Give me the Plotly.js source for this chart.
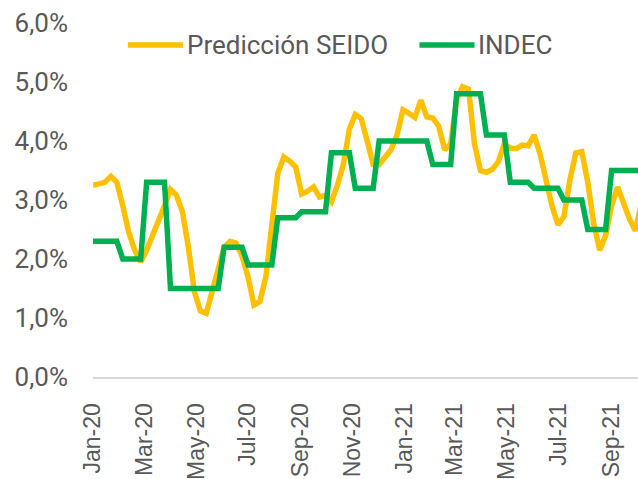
<!DOCTYPE html>
<html>
<head>
<meta charset="utf-8">
<script src="https://cdn.plot.ly/plotly-3.0.1.min.js"></script>
<style>
  html, body { margin: 0; padding: 0; background: #ffffff; }
  #chart { width: 638px; height: 479px; }
</style>
</head>
<body>
<div id="chart"></div>
<script>
// Weekly observation dates
const weeks = [
  "2020-01-01","2020-01-08","2020-01-15","2020-01-22","2020-01-29",
  "2020-02-05","2020-02-12","2020-02-19","2020-02-26",
  "2020-03-04","2020-03-11","2020-03-18","2020-03-25",
  "2020-04-01","2020-04-08","2020-04-15","2020-04-22","2020-04-29",
  "2020-05-06","2020-05-13","2020-05-20","2020-05-27",
  "2020-06-03","2020-06-10","2020-06-17","2020-06-24",
  "2020-07-01","2020-07-08","2020-07-15","2020-07-22","2020-07-29",
  "2020-08-05","2020-08-12","2020-08-19","2020-08-26",
  "2020-09-02","2020-09-09","2020-09-16","2020-09-23","2020-09-30",
  "2020-10-07","2020-10-14","2020-10-21","2020-10-28",
  "2020-11-04","2020-11-11","2020-11-18","2020-11-25",
  "2020-12-02","2020-12-09","2020-12-16","2020-12-23","2020-12-30",
  "2021-01-06","2021-01-13","2021-01-20","2021-01-27",
  "2021-02-03","2021-02-10","2021-02-17","2021-02-24",
  "2021-03-03","2021-03-10","2021-03-17","2021-03-24","2021-03-31",
  "2021-04-07","2021-04-14","2021-04-21","2021-04-28",
  "2021-05-05","2021-05-12","2021-05-19","2021-05-26",
  "2021-06-02","2021-06-09","2021-06-16","2021-06-23","2021-06-30",
  "2021-07-07","2021-07-14","2021-07-21","2021-07-28",
  "2021-08-04","2021-08-11","2021-08-18","2021-08-25",
  "2021-09-01","2021-09-08","2021-09-15","2021-09-22","2021-09-29",
  "2021-10-06"
];

// Predicción SEIDO (weekly, % monthly inflation)
const seido = [
  3.25,3.28,3.30,3.40,3.30,
  2.90,2.45,2.15,1.95,
  2.15,2.40,2.60,2.90,
  3.18,3.08,2.80,2.20,1.45,
  1.12,1.08,1.45,1.90,
  2.20,2.30,2.27,2.05,
  1.70,1.22,1.28,1.70,2.50,
  3.45,3.73,3.66,3.56,
  3.10,3.15,3.22,3.05,3.08,
  2.97,3.25,3.60,4.20,
  4.45,4.38,4.00,3.60,
  3.60,3.72,3.85,4.10,4.53,
  4.47,4.40,4.69,4.41,
  4.39,4.25,3.85,3.95,
  4.70,4.92,4.88,3.95,3.50,
  3.47,3.52,3.65,3.95,
  3.88,3.87,3.93,3.92,
  4.10,3.78,3.34,2.90,2.58,
  2.72,3.34,3.80,3.82,
  3.30,2.60,2.15,2.40,
  2.90,3.22,2.95,2.68,2.48,
  2.95
];

// INDEC (official monthly value, shown on each week)
const indec = [
  2.3,2.3,2.3,2.3,2.3,
  2.0,2.0,2.0,2.0,
  3.3,3.3,3.3,3.3,
  1.5,1.5,1.5,1.5,1.5,
  1.5,1.5,1.5,1.5,
  2.2,2.2,2.2,2.2,
  1.9,1.9,1.9,1.9,1.9,
  2.7,2.7,2.7,2.7,
  2.8,2.8,2.8,2.8,2.8,
  3.8,3.8,3.8,3.8,
  3.2,3.2,3.2,3.2,
  4.0,4.0,4.0,4.0,4.0,
  4.0,4.0,4.0,4.0,
  3.6,3.6,3.6,3.6,
  4.8,4.8,4.8,4.8,4.8,
  4.1,4.1,4.1,4.1,
  3.3,3.3,3.3,3.3,
  3.2,3.2,3.2,3.2,3.2,
  3.0,3.0,3.0,3.0,
  2.5,2.5,2.5,2.5,
  3.5,3.5,3.5,3.5,3.5,
  3.5
];

const seriesNames = ["Predicción SEIDO", "INDEC"];
const seriesColors = ["#FFC000", "#00B050"];

const labelFont = 'Roboto, "Liberation Sans", sans-serif';
const textGrey = "#595959";

const traces = [
  {
    x: weeks, y: seido, type: "scatter", mode: "lines",
    name: seriesNames[0], showlegend: false,
    line: { color: seriesColors[0], width: 5.5, shape: "linear" },
    hoverinfo: "skip"
  },
  {
    x: weeks, y: indec, type: "scatter", mode: "lines",
    name: seriesNames[1], showlegend: false,
    line: { color: seriesColors[1], width: 5.5, shape: "linear" },
    hoverinfo: "skip"
  }
];

// Legend drawn as line samples + text (paper coordinates)
const legendY = 0.938;
const legendItems = [
  { x0: 0.064, x1: 0.165, tx: 0.168 },
  { x0: 0.599, x1: 0.700, tx: 0.703 }
];
const shapes = legendItems.map((it, k) => ({
  type: "line", xref: "paper", yref: "paper",
  x0: it.x0, x1: it.x1, y0: legendY, y1: legendY,
  line: { color: seriesColors[k], width: 5.5 }
}));
const annotations = legendItems.map((it, k) => ({
  xref: "paper", yref: "paper", x: it.tx, y: legendY,
  xanchor: "left", yanchor: "middle", showarrow: false,
  text: seriesNames[k],
  font: { family: labelFont, size: 26, color: textGrey }
}));

const layout = {
  width: 638, height: 479, autosize: false,
  margin: { l: 93, r: 0, t: 23, b: 102, pad: 0 },
  paper_bgcolor: "#ffffff", plot_bgcolor: "#ffffff",
  separators: ",.",
  showlegend: false,
  shapes: shapes,
  annotations: annotations,
  xaxis: {
    type: "date",
    range: ["2020-01-01", "2021-10-02"],
    tick0: "2020-01-01", dtick: "M2",
    tickformat: "%b-%y", tickangle: -90,
    showgrid: false, zeroline: false,
    showline: true, linecolor: "#D9D9D9", linewidth: 2,
    ticks: "", ticklabelstandoff: 15,
    tickfont: { family: "Liberation Sans, Arial, sans-serif", size: 23, color: textGrey },
    fixedrange: true
  },
  yaxis: {
    range: [0, 6], dtick: 1, tick0: 0,
    tickformat: ".1f", ticksuffix: "%",
    showgrid: false, zeroline: false, showline: false,
    ticks: "", ticklabelstandoff: 24,
    tickfont: { family: labelFont, size: 26, color: textGrey },
    fixedrange: true
  }
};

Plotly.newPlot("chart", traces, layout, { staticPlot: true, displayModeBar: false });
</script>
</body>
</html>
